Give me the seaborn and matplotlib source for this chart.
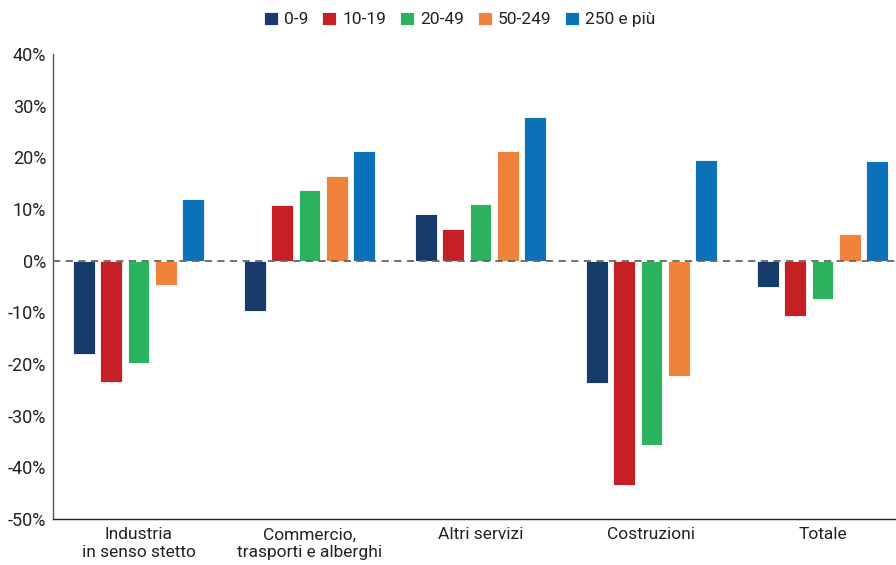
import matplotlib
matplotlib.use('Agg')
import matplotlib.pyplot as plt
import seaborn as sns
import pandas as pd
from matplotlib.ticker import FuncFormatter

# ++++++++++++++++++++++++++++++++ dati
settori = ['Industria\nin senso stetto', 'Commercio,\ntrasporti e alberghi',
           'Altri servizi', 'Costruzioni', 'Totale']
classi = ['0-9', '10-19', '20-49', '50-249', '250 e più']
v_0_9 = [-18.1, -9.7, 9.1, -23.7, -5.1]
v_10_19 = [-23.5, 10.7, 6.1, -43.5, -10.8]
v_20_49 = [-19.9, 13.7, 11.0, -35.7, -7.4]
v_50_249 = [-4.8, 16.4, 21.3, -22.4, 5.2]
v_250 = [12.0, 21.3, 27.8, 19.4, 19.3]
colori = ['#183c69', '#c42026', '#2bb35e', '#f1823c', '#0b72b9']

serie = [v_0_9, v_10_19, v_20_49, v_50_249, v_250]
rows = []
for c, vals in zip(classi, serie):
    for s, v in zip(settori, vals):
        rows.append({'settore': s, 'classe': c, 'valore': v})
df = pd.DataFrame(rows)

# ++++++++++++++++++++++++++++++++ grafico
sns.set_style('white')
plt.rcParams['font.family'] = ['Roboto', 'DejaVu Sans']
plt.rcParams['text.color'] = '#222222'

fig = plt.figure(figsize=(8.96, 5.65), dpi=100)
ax = fig.add_axes([53 / 896, 1 - 519 / 565, 843 / 896, 465 / 565])

sns.barplot(data=df, x='settore', y='valore', hue='classe', palette=colori,
            order=settori, hue_order=classi, width=0.8, gap=0.2, saturation=1,
            edgecolor='white', linewidth=0.6, ax=ax)

ax.axhline(0, color='#666666', linestyle=(0, (4, 3)), linewidth=1.3, zorder=5)
ax.set_ylim(-50, 40)
ax.set_xlim(-0.5, 4.43)
ax.set_yticks(range(-50, 41, 10))
ax.yaxis.set_major_formatter(FuncFormatter(lambda v, p: f'{v:.0f}%'))
ax.tick_params(axis='y', labelsize=13, colors='#222222', length=0, pad=5)
ax.tick_params(axis='x', labelsize=12.5, colors='#222222', length=0, pad=6)
for lab in ax.get_xticklabels():
    lab.set_linespacing(1.2)
ax.set_xlabel('')
ax.set_ylabel('')
for sp in ['top', 'right']:
    ax.spines[sp].set_visible(False)
ax.spines['left'].set_color('#555555')
ax.spines['bottom'].set_color('#222222')
ax.spines['left'].set_linewidth(1)
ax.spines['bottom'].set_linewidth(1)

ax.legend(loc='upper center', bbox_to_anchor=(460 / 843 - 53 / 843, 1.125),
          ncol=5, frameon=False, fontsize=12.5, handlelength=0.8, handleheight=0.8,
          handletextpad=0.35, columnspacing=0.8)

plt.savefig('out.png', dpi=100)
plt.close()
